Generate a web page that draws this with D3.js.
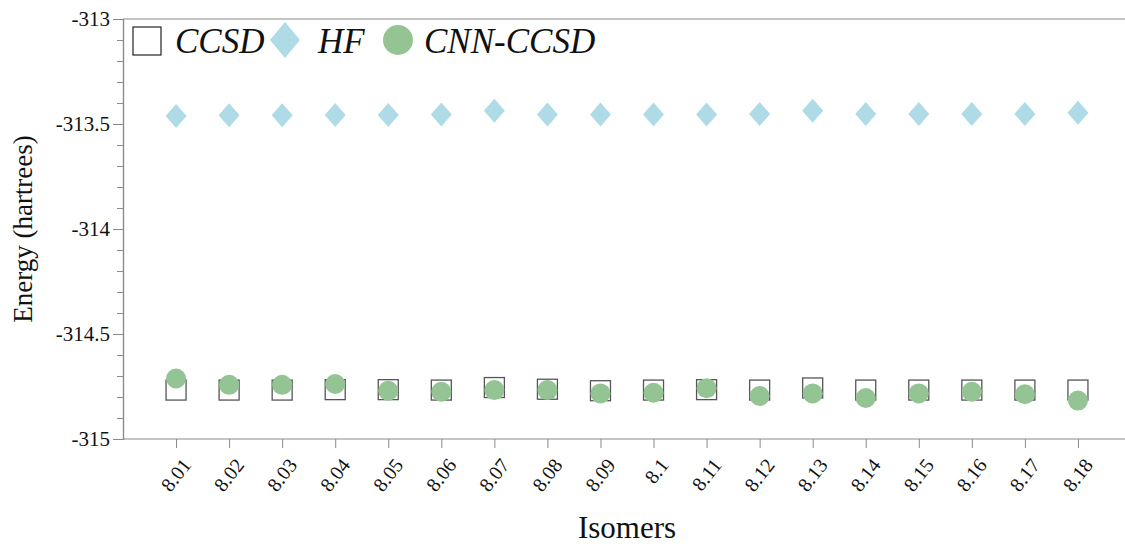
<!DOCTYPE html>
<html><head><meta charset="utf-8"><script src="https://cdn.jsdelivr.net/npm/d3@7"></script></head>
<body style="margin:0">
<script>
// isomer labels
var isomers = ['8.01','8.02','8.03','8.04','8.05','8.06','8.07','8.08','8.09','8.1','8.11','8.12','8.13','8.14','8.15','8.16','8.17','8.18'];
var ccsd = [-314.767,-314.767,-314.767,-314.765,-314.765,-314.767,-314.755,-314.763,-314.77,-314.767,-314.765,-314.767,-314.757,-314.767,-314.767,-314.767,-314.767,-314.767];
var hf = [-313.462,-313.458,-313.458,-313.457,-313.457,-313.455,-313.437,-313.455,-313.455,-313.455,-313.455,-313.452,-313.437,-313.452,-313.452,-313.452,-313.452,-313.447];
var cnn = [-314.712,-314.742,-314.742,-314.738,-314.77,-314.775,-314.767,-314.767,-314.783,-314.78,-314.758,-314.795,-314.783,-314.805,-314.783,-314.775,-314.787,-314.817];
var yTicks = [-313,-313.5,-314,-314.5,-315];

var W = 1125, H = 546;
var mLeft = 123, mTop = 19, mBottom = 439, mRight = 1131;

var svg = d3.select('body').append('svg').attr('width', W).attr('height', H);

var x = d3.scalePoint().domain(isomers).range([mLeft, mRight]).padding(1);
var y = d3.scaleLinear().domain([-315, -313]).range([mBottom, mTop]);

// frame top
svg.append('line')
    .attr('x1', mLeft).attr('x2', W).attr('y1', mTop).attr('y2', mTop)
    .style('stroke', '#8a8a8a').style('stroke-width', 1.2);

// minor + major y ticks
var minor = d3.range(0, 21).map(function(i){ return -315 + i * 0.1; });
svg.append('g').attr('transform', 'translate(' + mLeft + ',0)')
    .call(d3.axisLeft(y).tickValues(minor).tickSize(6).tickFormat(''));
var yAxis = svg.append('g').attr('transform', 'translate(' + mLeft + ',0)')
    .call(d3.axisLeft(y).tickValues(yTicks).tickSize(10).tickPadding(3)
        .tickFormat(function(d){ return '-' + Math.abs(d); }));

// x axis
var xAxis = svg.append('g').attr('transform', 'translate(0,' + mBottom + ')')
    .call(d3.axisBottom(x).tickSize(9).tickSizeOuter(0));
xAxis.select('.domain').attr('d', 'M' + mLeft + ',0H' + W);

svg.selectAll('g').attr('font-family', null);
svg.selectAll('.domain').style('stroke', '#8a8a8a').style('stroke-width', 1.2);
svg.selectAll('.tick line').style('stroke', '#8a8a8a');

yAxis.selectAll('text').style('font-size', '21px').style('fill', '#111');
xAxis.selectAll('text')
    .style('font-size', '20px').style('fill', '#111')
    .attr('text-anchor', 'end')
    .attr('dy', '0.35em')
    .attr('y', 0)
    .attr('transform', 'translate(10,22) rotate(-52)');

// axis titles
svg.append('text')
    .attr('transform', 'translate(32,' + ((mTop + mBottom) / 2) + ') rotate(-90)')
    .attr('text-anchor', 'middle')
    .style('font-size', '27px').style('fill', '#111')
    .text('Energy (hartrees)');
svg.append('text')
    .attr('x', 627).attr('y', 538)
    .attr('text-anchor', 'middle')
    .style('font-size', '31px').style('fill', '#111')
    .text('Isomers');

var diamond = function(w, h){
    return 'M0,' + (-h / 2) + 'L' + (w / 2) + ',0L0,' + (h / 2) + 'L' + (-w / 2) + ',0Z';
};

// HF diamonds
svg.selectAll('.hf').data(hf).enter().append('path')
    .attr('class', 'hf')
    .attr('d', diamond(21, 24))
    .attr('transform', function(d, i){ return 'translate(' + x(isomers[i]) + ',' + y(d) + ')'; })
    .style('fill', '#afdbe6');

// CCSD squares
svg.selectAll('.ccsd').data(ccsd).enter().append('rect')
    .attr('class', 'ccsd')
    .attr('x', function(d, i){ return x(isomers[i]) - 10; })
    .attr('y', function(d){ return y(d) - 10; })
    .attr('width', 20).attr('height', 20)
    .style('fill', '#fff').style('stroke', '#555').style('stroke-width', 1.3);

// CNN-CCSD circles
svg.selectAll('.cnn').data(cnn).enter().append('circle')
    .attr('class', 'cnn')
    .attr('cx', function(d, i){ return x(isomers[i]); })
    .attr('cy', function(d){ return y(d); })
    .attr('r', 10)
    .style('fill', '#94c494');

// legend
var lg = svg.append('g');
lg.append('rect').attr('x', 133).attr('y', 27).attr('width', 28).attr('height', 28)
    .style('fill', '#fff').style('stroke', '#222').style('stroke-width', 1.2);
lg.append('text').attr('x', 175).attr('y', 53).text('CCSD');
lg.append('path').attr('d', diamond(30, 36))
    .attr('transform', 'translate(285,40)').style('fill', '#afdbe6');
lg.append('text').attr('x', 318).attr('y', 53).text('HF');
lg.append('circle').attr('cx', 398).attr('cy', 40).attr('r', 15).style('fill', '#94c494');
lg.append('text').attr('x', 424).attr('y', 53).text('CNN-CCSD');
lg.selectAll('text')
    .style('font-size', '35px').style('font-style', 'italic').style('fill', '#111');

svg.selectAll('text').style('font-family', function(){ return "'Liberation Serif'"; });
</script></body></html>
